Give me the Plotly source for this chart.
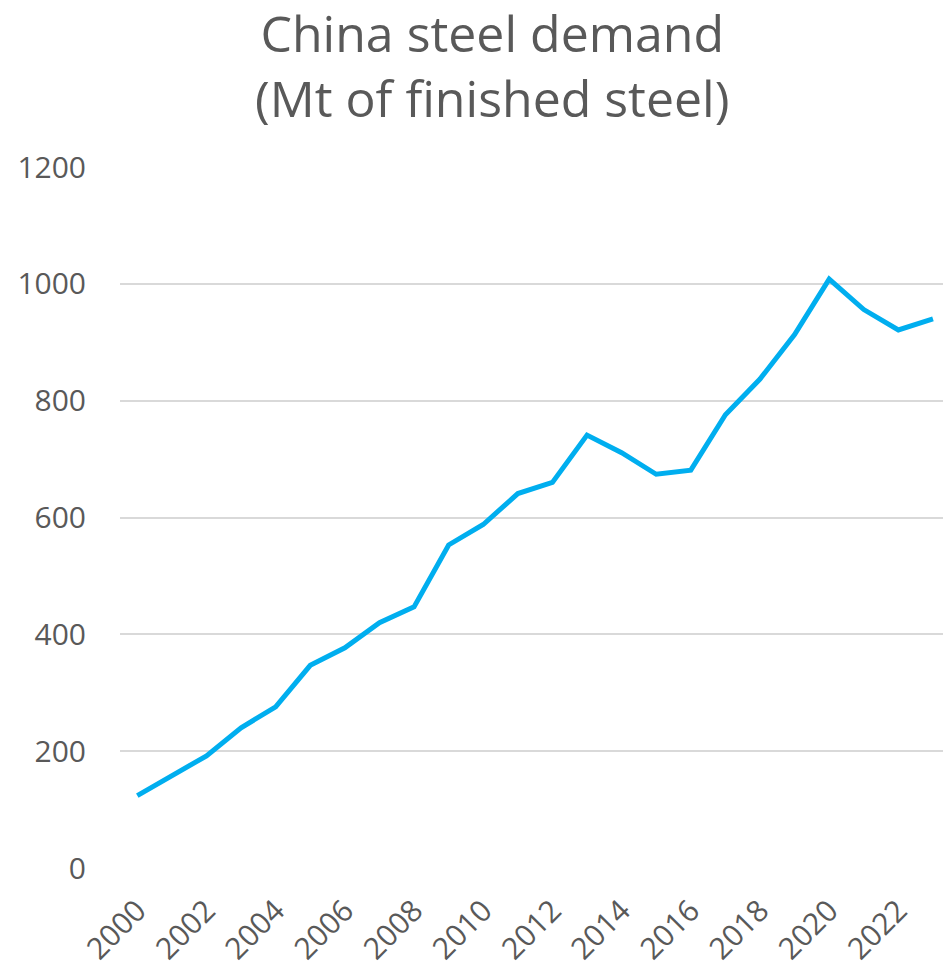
import plotly.graph_objects as go

# China finished steel demand, million tonnes
years = list(range(2000, 2024))
demand_mt = [124, 158, 192, 240, 276, 347, 377, 420, 447, 553, 588, 641,
             660, 741, 711, 674, 681, 776, 837, 913, 1008, 956, 921, 940]

y_ticks = [0, 200, 400, 600, 800, 1000, 1200]
x_ticks = list(range(2000, 2023, 2))

GRAY = "#595959"
FONT = "Open Sans"

fig = go.Figure(
    go.Scatter(
        x=years,
        y=demand_mt,
        mode="lines",
        line=dict(color="#00AEEF", width=5),
        hoverinfo="x+y",
    )
)

fig.update_layout(
    width=943,
    height=967,
    paper_bgcolor="white",
    plot_bgcolor="white",
    margin=dict(l=120, r=0, t=167, b=99),
    showlegend=False,
    font=dict(family=FONT, color=GRAY),
)

# Two-line chart title placed above the plot area
fig.add_annotation(
    text="China steel demand<br>(Mt of finished steel)",
    font=dict(family=FONT, size=50, color=GRAY),
    xref="paper",
    x=0.452,
    xanchor="center",
    yref="paper",
    y=1,
    yanchor="bottom",
    yshift=33,
    showarrow=False,
    align="center",
)

fig.update_xaxes(
    range=[1999.5, 2023.29],
    tickmode="array",
    tickvals=x_ticks,
    ticktext=[str(t) for t in x_ticks],
    tickangle=-45,
    tickfont=dict(family=FONT, size=30, color=GRAY),
    showgrid=False,
    zeroline=False,
    showline=False,
    ticks="",
    ticklabelstandoff=18,
)

fig.update_yaxes(
    range=[0, 1200],
    tickmode="array",
    tickvals=y_ticks,
    ticktext=[str(t) for t in y_ticks],
    tickfont=dict(family=FONT, size=30, color=GRAY),
    showgrid=True,
    gridcolor="#D9D9D9",
    gridwidth=2,
    zeroline=False,
    showline=False,
    ticks="",
    ticklabelstandoff=33,
)

fig.write_html("out.html")
